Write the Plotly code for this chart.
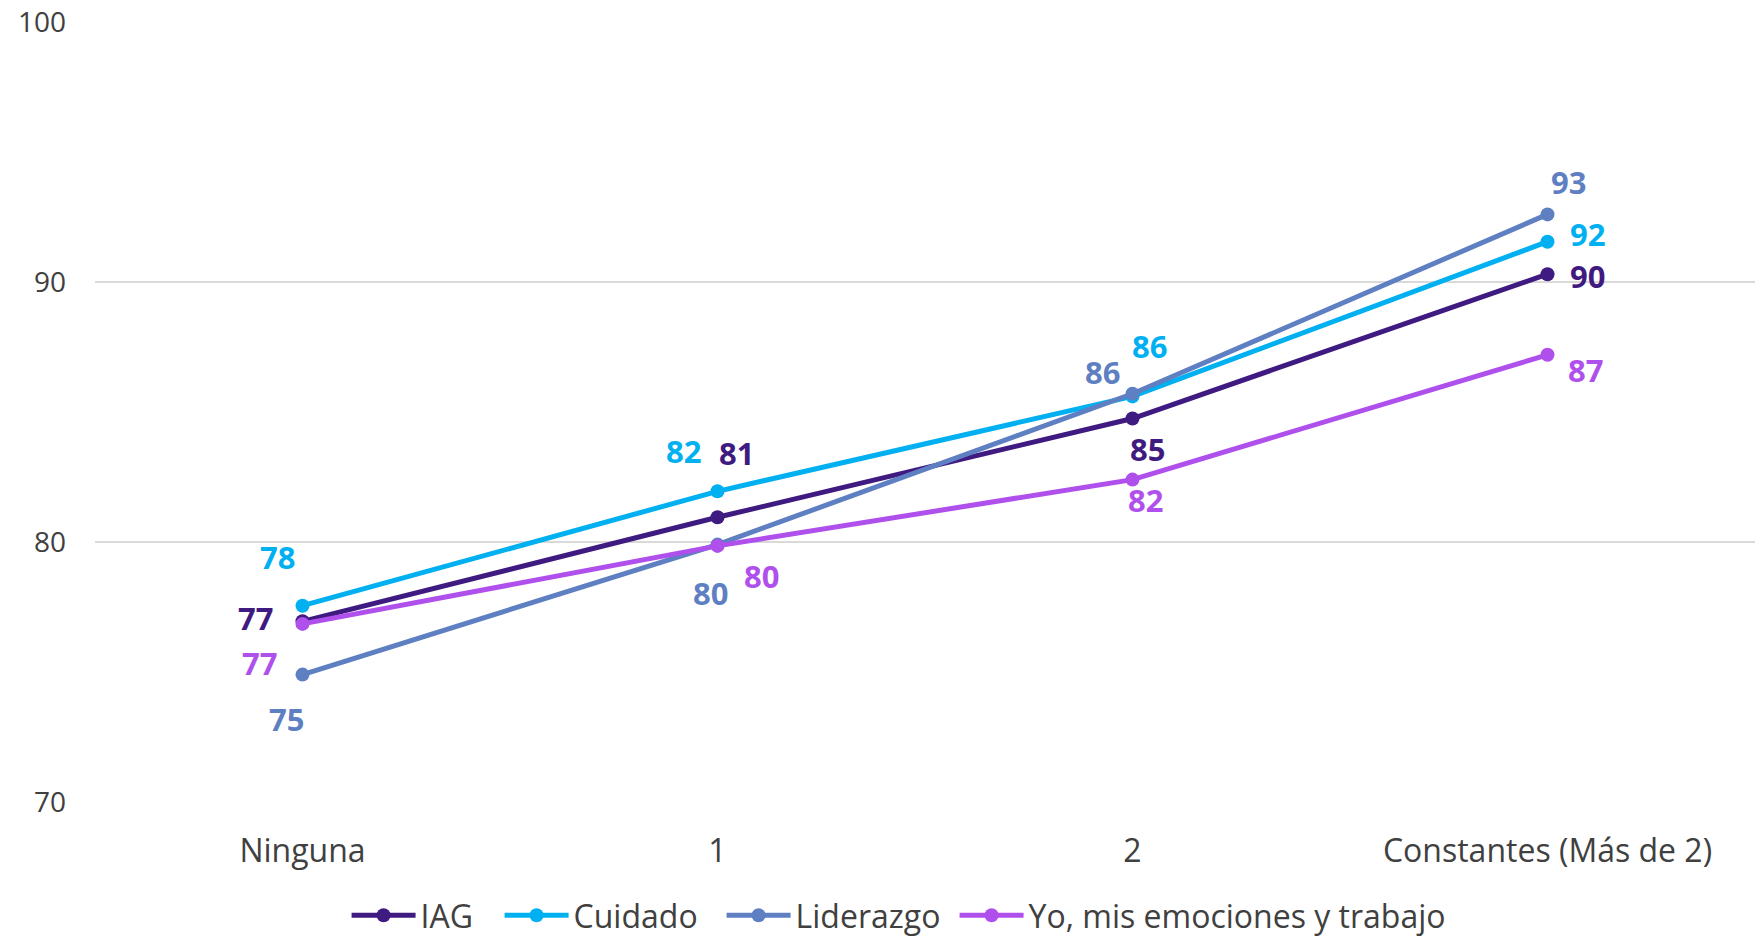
import plotly.graph_objects as go

categories = ["Ninguna", "1", "2", "Constantes (Más de 2)"]
series_names = ["IAG", "Cuidado", "Liderazgo", "Yo, mis emociones y trabajo"]
iag = [76.95, 80.95, 84.75, 90.3]
cuidado = [77.55, 81.95, 85.6, 91.55]
liderazgo = [74.9, 79.9, 85.7, 92.6]
yo = [76.85, 79.85, 82.4, 87.2]
y_ticks = [70, 80, 90, 100]

colors = ["#3F1A80", "#00B0F0", "#5F7FC3", "#B050EC"]
legend_widths = [74, 143, 154, 430]

# label offsets in pixels (dx right, dy up) per series per category
label_dx = [
    [-47, 19, 15, 40],
    [-25, -34, 17, 40],
    [-16, -7, -30, 21],
    [-43, 44, 13, 38],
]
label_dy = [
    [3, 64, -30, -2],
    [49, 40, 50, 8],
    [-44, -48, 22, 32],
    [-39, -30, -20, -15],
]

series_values = [iag, cuidado, liderazgo, yo]

fig = go.Figure()
for name, vals, col, lw in zip(series_names, series_values, colors, legend_widths):
    fig.add_trace(go.Scatter(
        x=categories, y=vals, name=name, mode="lines+markers",
        line=dict(color=col, width=5),
        marker=dict(color=col, size=14),
        legendwidth=lw,
    ))

annotations = []
for si, (vals, col) in enumerate(zip(series_values, colors)):
    for ci, (cat, v) in enumerate(zip(categories, vals)):
        annotations.append(dict(
            x=cat, y=v, xref="x", yref="y", text=f"{round(v):d}",
            showarrow=False, xanchor="center", yanchor="middle",
            xshift=label_dx[si][ci], yshift=label_dy[si][ci],
            font=dict(family="Open Sans", size=31, color=col, weight="bold"),
        ))

fig.update_layout(
    width=1755, height=943,
    margin=dict(l=95, r=0, t=22, b=141, autoexpand=False),
    paper_bgcolor="white", plot_bgcolor="white",
    font=dict(family="Open Sans", color="#404040"),
    annotations=annotations,
    showlegend=True,
    legend=dict(
        orientation="h", x=0.488, xanchor="center", y=-0.1808, yanchor="bottom",
        font=dict(family="Open Sans", size=32, color="#404040"),
        itemwidth=64, tracegroupgap=0,
    ),
    xaxis=dict(
        type="category", showgrid=False, zeroline=False, showline=False,
        tickfont=dict(size=32, color="#404040"), ticks="", ticklabelstandoff=27,
        range=[-0.5, 3.5], automargin=False,
    ),
    yaxis=dict(
        range=[70, 100], tickvals=y_ticks, showgrid=True, gridcolor="#D9D9D9",
        gridwidth=1.5, zeroline=False, showline=False,
        tickfont=dict(size=28, color="#404040"), ticks="", ticklabelstandoff=28,
        automargin=False,
    ),
)

fig.write_html("out.html")
